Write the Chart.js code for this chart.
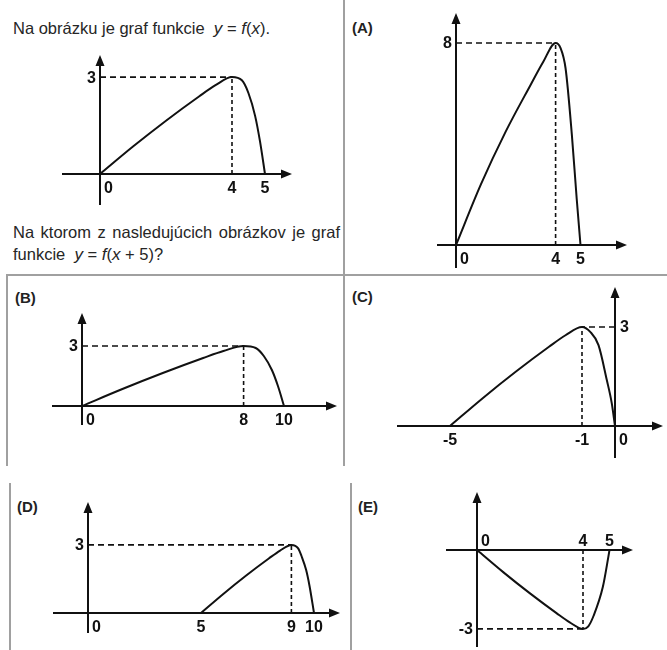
<!DOCTYPE html>
<html><head><meta charset="utf-8">
<script src="https://cdn.jsdelivr.net/npm/chart.js@4.4.0/dist/chart.umd.min.js"></script>
<style>
body{margin:0;width:667px;height:650px;background:#fff;position:relative;overflow:hidden;font-family:"Liberation Sans",Arial,sans-serif;}
canvas{position:absolute;left:0;top:0;}
.t{position:absolute;font-size:16.5px;line-height:19px;color:#262626;white-space:nowrap;}
.t i{font-size:17px;}
.lab{position:absolute;font-weight:bold;font-size:15px;line-height:16px;color:#222;}
.ln{position:absolute;background:#a0a0a0;}
</style></head><body>
<div class="t" style="left:13px;top:19px;">Na obrázku je graf funkcie&nbsp;&nbsp;<i>y</i> = <i>f</i>(<i>x</i>).</div>
<div class="t" style="left:13px;top:223px;width:327px;text-align:justify;text-align-last:justify;">Na ktorom z nasledujúcich obrázkov je graf</div>
<div class="t" style="left:13px;top:245px;">funkcie&nbsp;&nbsp;<i>y</i> = <i>f</i>(<i>x</i> + 5)?</div>
<div class="lab" style="left:352px;top:20px;">(A)</div>
<div class="lab" style="left:15px;top:290px;">(B)</div>
<div class="lab" style="left:352px;top:289px;">(C)</div>
<div class="lab" style="left:17px;top:499px;">(D)</div>
<div class="lab" style="left:358px;top:499px;">(E)</div>
<div class="ln" style="left:343px;top:0;width:2px;height:466px;"></div>
<div class="ln" style="left:7px;top:274px;width:660px;height:2px;"></div>
<div class="ln" style="left:6px;top:274px;width:2px;height:192px;"></div>
<div class="ln" style="left:9px;top:483px;width:2px;height:167px;"></div>
<div class="ln" style="left:350px;top:483px;width:2px;height:167px;"></div>
<canvas id="cf" width="667" height="650"></canvas>
<canvas id="ca" width="667" height="650"></canvas>
<canvas id="cb" width="667" height="650"></canvas>
<canvas id="cc" width="667" height="650"></canvas>
<canvas id="cd" width="667" height="650"></canvas>
<canvas id="ce" width="667" height="650"></canvas>
<script>
// ---- data ----
const fX=[0,1,2,3,3.5,4,4.3,4.5,4.7,4.85,5];
const fY=[0,0.85,1.65,2.4,2.75,3,2.9,2.5,1.8,1.0,0];
const fXTicks=[4,5], fYTicks=[3], fPeak=[4,3];

const aX=[0,1,2,3,3.5,4,4.2,4.4,4.65,4.85,5];
const aY=[0,2.4,4.5,6.35,7.25,8,7.8,7.0,4.4,1.8,0];
const aXTicks=[4,5], aYTicks=[8], aPeak=[4,8];

const bX=[0,2,4,6,7,8,8.6,9,9.4,9.7,10];
const bY=[0,0.85,1.65,2.4,2.75,3,2.9,2.5,1.8,1.0,0];
const bXTicks=[8,10], bYTicks=[3], bPeak=[8,3];

const cX=[-5,-4,-3,-2,-1.5,-1,-0.75,-0.5,-0.25,-0.1,0];
const cY=[0,0.85,1.65,2.4,2.75,3,2.85,2.45,1.4,0.7,0];
const cXTicks=[-5,-1], cYTicks=[3], cPeak=[-1,3];

const dX=[5,6,7,8,8.5,9,9.3,9.45,9.65,9.8,10];
const dY=[0,0.85,1.65,2.4,2.75,3,2.85,2.5,1.9,1.2,0];
const dXTicks=[5,9,10], dYTicks=[3], dPeak=[9,3];

const eX=[0,1,2,3,3.5,4,4.2,4.4,4.75,4.95,5];
const eY=[0,-0.85,-1.65,-2.4,-2.75,-3,-2.9,-2.5,-1.4,-0.3,0];
const eXTicks=[4,5], eYTicks=[-3], ePeak=[4,-3];

// ---- layout (pixel geometry of each panel's axes) ----
const panels=[
 {id:'cf',xs:fX,ys:fY,xt:fXTicks,yt:fYTicks,peak:fPeak,box:[62,55,292,205],origin:[100,174],unit:[33,32.3],ySide:'left',xAbove:false},
 {id:'ca',xs:aX,ys:aY,xt:aXTicks,yt:aYTicks,peak:aPeak,box:[437,13,627,268],origin:[456,245],unit:[24.9,25.25],ySide:'left',xAbove:false},
 {id:'cb',xs:bX,ys:bY,xt:bXTicks,yt:bYTicks,peak:bPeak,box:[52,313,337,425],origin:[82,406],unit:[20.2,20],ySide:'left',xAbove:false},
 {id:'cc',xs:cX,ys:cY,xt:cXTicks,yt:cYTicks,peak:cPeak,box:[397,287,663,458],origin:[615,426],unit:[33,33],ySide:'right',xAbove:false},
 {id:'cd',xs:dX,ys:dY,xt:dXTicks,yt:dYTicks,peak:dPeak,box:[53,502,340,633],origin:[88,613],unit:[22.6,22.7],ySide:'left',xAbove:false},
 {id:'ce',xs:eX,ys:eY,xt:eXTicks,yt:eYTicks,peak:ePeak,box:[446,492,633,647],origin:[477,550],unit:[26.5,26.3],ySide:'left',xAbove:true}
];

const INK='#111';
const LABFONT='bold 16px "Liberation Sans", Arial, sans-serif';

const axesPlugin={
 id:'axesDraw',
 beforeDatasetsDraw(chart){
  const p=chart.options.plugins.axesDraw.panel;
  const ctx=chart.ctx, xs=chart.scales.x, ys=chart.scales.y, ca=chart.chartArea;
  const ox=xs.getPixelForValue(0), oy=ys.getPixelForValue(0);
  ctx.save();
  ctx.strokeStyle=INK; ctx.fillStyle=INK; ctx.lineWidth=2;
  ctx.beginPath();
  ctx.moveTo(ca.left,oy); ctx.lineTo(ca.right-6,oy);
  ctx.moveTo(ox,ca.bottom); ctx.lineTo(ox,ca.top+6);
  ctx.stroke();
  ctx.beginPath();
  ctx.moveTo(ca.right,oy); ctx.lineTo(ca.right-11,oy-4.5); ctx.lineTo(ca.right-11,oy+4.5); ctx.closePath();
  ctx.moveTo(ox,ca.top); ctx.lineTo(ox-4.5,ca.top+11); ctx.lineTo(ox+4.5,ca.top+11); ctx.closePath();
  ctx.fill();
  ctx.font=LABFONT;
  ctx.textAlign='left';
  if(p.xAbove){ctx.textBaseline='alphabetic'; ctx.fillText('0',ox+4,oy-4);}
  else {ctx.textBaseline='top'; ctx.fillText('0',ox+4,oy+7);}
  ctx.textAlign='center';
  p.xt.forEach(v=>{
   const x=xs.getPixelForValue(v);
   if(p.xAbove){ctx.textBaseline='alphabetic'; ctx.fillText(String(v),x,oy-4);}
   else {ctx.textBaseline='top'; ctx.fillText(String(v),x,oy+7);}
  });
  ctx.textBaseline='middle';
  p.yt.forEach(v=>{
   const y=ys.getPixelForValue(v)+1;
   if(p.ySide==='right'){ctx.textAlign='left'; ctx.fillText(String(v),ox+5,y);}
   else {ctx.textAlign='right'; ctx.fillText(String(v),ox-4,y);}
  });
  ctx.restore();
 }
};

panels.forEach(p=>{
 const [L,T,R,B]=p.box, [ox,oy]=p.origin, [sx,sy]=p.unit;
 const xmin=(L-ox)/sx, xmax=(R-ox)/sx, ymax=(oy-T)/sy, ymin=(oy-B)/sy;
 const [px,py]=p.peak;
 new Chart(document.getElementById(p.id),{
  type:'scatter',
  data:{datasets:[
   {data:p.xs.map((x,i)=>({x:x,y:p.ys[i]})),showLine:true,borderColor:INK,borderWidth:2,pointRadius:0,cubicInterpolationMode:'monotone',fill:false,clip:false},
   {data:[{x:px,y:0},{x:px,y:py}],showLine:true,borderColor:INK,borderWidth:1.6,borderDash:[4,3],pointRadius:0,clip:false},
   {data:[{x:0,y:py},{x:px,y:py}],showLine:true,borderColor:INK,borderWidth:1.6,borderDash:[6,4],pointRadius:0,clip:false}
  ]},
  options:{
   responsive:false,animation:false,devicePixelRatio:1,
   layout:{padding:{left:L,top:T,right:667-R,bottom:650-B}},
   scales:{
    x:{type:'linear',min:xmin,max:xmax,display:false},
    y:{type:'linear',min:ymin,max:ymax,display:false}
   },
   plugins:{legend:{display:false},tooltip:{enabled:false},axesDraw:{panel:p}}
  },
  plugins:[axesPlugin]
 });
});
</script>
</body></html>
